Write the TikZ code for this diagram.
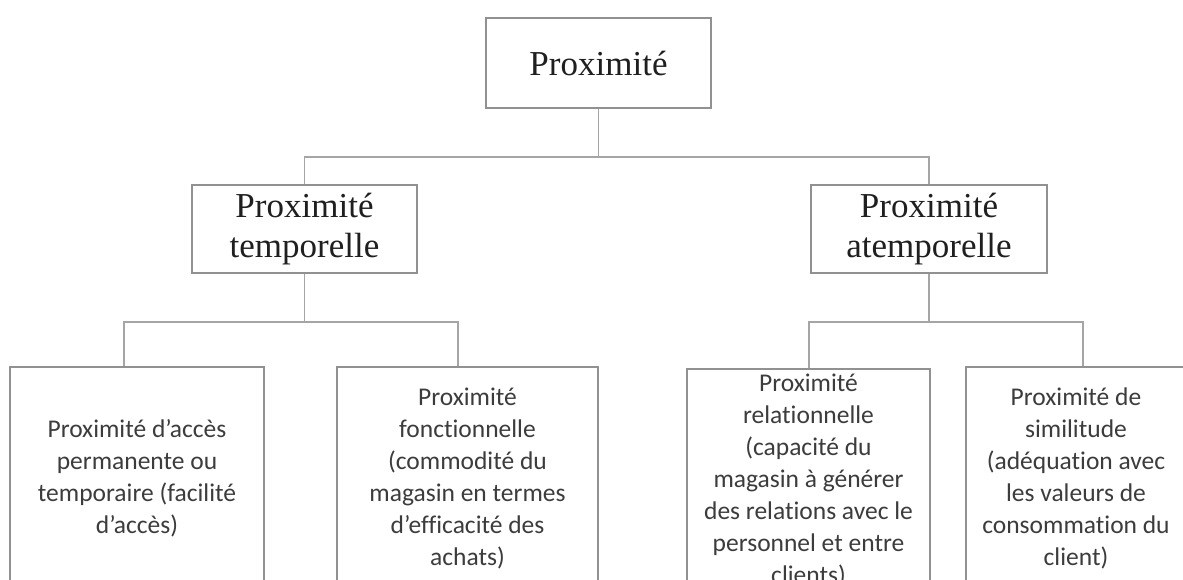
\documentclass[tikz,border=0pt]{standalone}
\usepackage{fontspec}
\setmainfont{Liberation Serif}
\newfontfamily\calibfont[Ligatures=NoCommon]{Carlito}
\usetikzlibrary{positioning,calc}
\definecolor{linegray}{RGB}{165,165,165}
\definecolor{boxgray}{RGB}{145,145,145}
\definecolor{textgray}{RGB}{60,60,60}

\begin{document}
\begin{tikzpicture}[x=1pt, y=-1pt,
    headbox/.style={rectangle, draw=boxgray, line width=1.3pt, fill=white, inner sep=0pt, align=center, font=\fontsize{35}{40}\selectfont, text=black!88},
    leafbox/.style={rectangle, draw=boxgray, line width=1.3pt, fill=white, inner sep=0pt, align=center, minimum height=222pt, font=\calibfont\fontsize{25.5}{32}\selectfont, text=textgray},
    link/.style={draw=linegray, line width=1.3pt}
]
\useasboundingbox (0,0) rectangle (1183,579);
\clip (0,0) rectangle (1183,579);

% Root
\node[headbox, minimum width=225pt, minimum height=90pt] (root) at (598.5, 63) {Proximité};

% Second level
\node[headbox, minimum width=225pt, minimum height=88pt] (temp) at (304.5, 229) {Proximité\\temporelle};
\node[headbox, minimum width=236pt, minimum height=88pt] (atemp) at (929, 229) {Proximité\\atemporelle};

% Leaves
\node[leafbox, minimum width=254pt] (acces) at (137, 478) {Proximité d’accès\\permanente ou\\temporaire (facilité\\d’accès)};
\node[leafbox, minimum width=261pt] (fonct) at (467.5, 478) {Proximité\\fonctionnelle\\(commodité du\\magasin en termes\\d’efficacité des\\achats)};
\node[leafbox, minimum width=243pt] (relat) at (808.5, 480) {Proximité\\relationnelle\\(capacité du\\magasin à générer\\des relations avec le\\personnel et entre\\clients)};
\node[leafbox, minimum width=220pt] (simil) at (1076, 478) {Proximité de\\similitude\\(adéquation avec\\les valeurs de\\consommation du\\client)};

% Bus coordinates
\coordinate (bus0) at (598.5, 157);
\coordinate (inA) at (124, 322);
\coordinate (inB) at (458, 322);
\coordinate (inC) at (809, 322);
\coordinate (inD) at (1083, 322);

% Root to second level
\draw[link] (root.south) -- (bus0);
\draw[link] (temp.north) -- (temp.north |- bus0) -- (atemp.north |- bus0) -- (atemp.north);

% Temporelle branch
\draw[link] (temp.south) -- (temp.south |- inA);
\draw[link] (acces.north -| inA) -- (inA) -- (inB) -- (fonct.north -| inB);

% Atemporelle branch
\draw[link] (atemp.south) -- (atemp.south |- inC);
\draw[link] (relat.north -| inC) -- (inC) -- (inD) -- (simil.north -| inD);

\end{tikzpicture}
\end{document}
